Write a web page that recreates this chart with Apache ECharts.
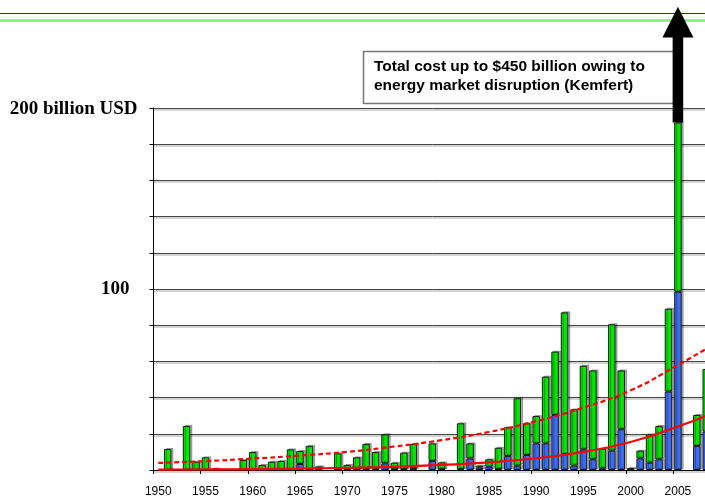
<!DOCTYPE html>
<html>
<head>
<meta charset="utf-8">
<script src="https://cdn.jsdelivr.net/npm/echarts@6/dist/echarts.min.js"></script>
<style>
  html, body { margin: 0; padding: 0; background: #fff; overflow: hidden; }
  #chart { width: 720px; height: 501px; }
</style>
</head>
<body>
<div id="chart"></div>
<script>
// years on the axis (the last one is cut by the frame)
var years = [];
for (var y = 1950; y <= 2008; y++) years.push(String(y));

// total economic losses, billion USD
var totalLoss = [
  0, 11.6, 0, 24.3, 4.6, 7.0, 0.8, 0, 0, 5.5,
  9.9, 2.8, 4.6, 5.0, 11.4, 10.5, 13.3, 2.0, 0, 9.2,
  2.8, 7.0, 14.4, 9.9, 19.7, 4.0, 9.6, 14.4, 0, 14.7,
  4.2, 0, 25.8, 14.7, 2.4, 5.9, 12.3, 23.6, 39.6, 25.8,
  29.8, 51.6, 65.4, 87.1, 33.5, 57.6, 55.0, 11.8, 80.5, 55.0,
  1.0, 10.7, 19.7, 24.3, 89.1, 192, 0, 30.4, 55.8
];
// insured losses, billion USD
var insuredLoss = [
  0, 0, 0, 0, 0, 0, 0, 0, 0, 0,
  0, 0, 0, 0, 0, 3.3, 0, 0.5, 0, 0,
  0.5, 0, 1.0, 1.0, 3.7, 0.5, 0.5, 1.0, 0, 5.0,
  0.5, 0, 0.5, 6.4, 1.3, 1.8, 0.5, 7.7, 2.4, 8.3,
  14.7, 14.7, 30.4, 8.8, 2.4, 11.4, 5.9, 0.9, 10.7, 22.5,
  0.3, 6.4, 4.0, 5.9, 43.3, 98.5, 0, 13.3, 21.2
];

// trend curves, read at 5-year steps
var trendYears = ['1950', '1955', '1960', '1965', '1970', '1975', '1980', '1985', '1990', '1995', '2000', '2005', '2008'];
var trendTotal = [3.9, 4.9, 6.3, 8.0, 10.0, 13.0, 16.5, 21.0, 27.0, 34.5, 44.0, 58.0, 67.0];
var trendInsured = [0.2, 0.3, 0.5, 0.8, 1.2, 1.8, 2.8, 4.2, 6.5, 10.0, 15.5, 24.0, 30.0];

// arrow for 2005 (billion USD on the same scale, runs past the top)
var arrowYear = '2005';
var arrowStart = 192, arrowHeadBase = 239, arrowTip = 256;

var noteLines = ['Total cost up to $450 billion owing to', 'energy market disruption (Kemfert)'];

var blueData = insuredLoss.map(function (v, i) { return totalLoss[i] > 0 ? v : '-'; });
var greenData = totalLoss.map(function (v, i) { return v > 0 ? +(v - insuredLoss[i]).toFixed(1) : '-'; });

var myChart = echarts.init(document.getElementById('chart'));

var barStyle = function (color) {
  return {
    color: color,
    borderColor: '#1a1a1a',
    borderWidth: 1,
    shadowColor: 'rgba(0,0,0,0.3)',
    shadowOffsetX: 2,
    shadowOffsetY: -1
  };
};

var serif = '"Liberation Serif", "Times New Roman", serif';

var option = {
  animation: false,
  grid: { left: 153.5, right: 9, top: 108, bottom: 31 },
  xAxis: {
    type: 'category',
    data: years,
    boundaryGap: true,
    axisLine: { lineStyle: { color: '#000', width: 1 } },
    axisTick: { show: true, length: 4, lineStyle: { color: '#000' } },
    axisLabel: {
      interval: 4,
      color: '#000',
      fontFamily: 'Arial, "Liberation Sans", sans-serif',
      fontSize: 12,
      margin: 16
    }
  },
  yAxis: {
    type: 'value',
    min: 0,
    max: 200,
    interval: 20,
    axisLine: { show: true, lineStyle: { color: '#000', width: 1 } },
    axisTick: { show: true, length: 4, lineStyle: { color: '#000' } },
    splitLine: {
      lineStyle: {
        color: '#444',
        width: 1,
        shadowColor: 'rgba(0,0,0,0.35)',
        shadowOffsetY: 1.5
      }
    },
    axisLabel: {
      margin: 16,
      formatter: function (v) {
        if (v === 200) return '{a|200 billion USD}';
        if (v === 100) return '{b|100}';
        return '';
      },
      rich: {
        a: { fontFamily: serif, fontWeight: 'bold', fontSize: 19, color: '#000', padding: [3, 0, 0, 0] },
        b: { fontFamily: serif, fontWeight: 'bold', fontSize: 19, color: '#000', padding: [0, 8, 0, 0] }
      }
    }
  },
  series: [
    {
      name: 'insured',
      type: 'bar',
      stack: 'loss',
      barWidth: 7.5,
      data: blueData,
      itemStyle: barStyle('#3a6cf4')
    },
    {
      name: 'economic',
      type: 'bar',
      stack: 'loss',
      barWidth: 7.5,
      data: greenData,
      itemStyle: barStyle('#00e600')
    },
    {
      name: 'trend total',
      type: 'line',
      smooth: true,
      showSymbol: false,
      data: trendYears.map(function (t, i) { return [t, trendTotal[i]]; }),
      lineStyle: { color: '#ff0000', width: 2.2, type: [5, 3] },
      z: 5
    },
    {
      name: 'trend insured',
      type: 'line',
      smooth: true,
      showSymbol: false,
      data: trendYears.map(function (t, i) { return [t, trendInsured[i]]; }),
      lineStyle: { color: '#ff0000', width: 2.2 },
      z: 5
    }
  ]
};

myChart.setOption(option);

// annotations: header rules, note box and the 2005 arrow
var p0 = myChart.convertToPixel({ xAxisIndex: 0, yAxisIndex: 0 }, [arrowYear, arrowStart]);
var p1 = myChart.convertToPixel({ xAxisIndex: 0, yAxisIndex: 0 }, [arrowYear, arrowHeadBase]);
var p2 = myChart.convertToPixel({ xAxisIndex: 0, yAxisIndex: 0 }, [arrowYear, arrowTip]);
var cx = p0[0];

myChart.setOption({
  graphic: [
    { type: 'line', shape: { x1: 0, y1: 13.5, x2: 720, y2: 13.5 }, style: { stroke: '#2a2a80', lineWidth: 1 }, z: 10 },
    { type: 'line', shape: { x1: 0, y1: 20.5, x2: 720, y2: 20.5 }, style: { stroke: '#86e886', lineWidth: 2.5 }, z: 10 },
    {
      type: 'rect',
      shape: { x: 363.5, y: 51.5, width: 312, height: 52 },
      style: { fill: '#fff', stroke: '#777', lineWidth: 1.5 },
      z: 10
    },
    {
      type: 'text',
      left: 374, top: 57,
      style: {
        text: noteLines.join('\n'),
        font: 'bold 15.5px Arial, "Liberation Sans", sans-serif',
        fill: '#000',
        lineHeight: 19
      },
      z: 11
    },
    {
      type: 'rect',
      shape: { x: cx - 5.3, y: p1[1] - 1, width: 10.6, height: p0[1] - p1[1] + 1 },
      style: { fill: '#000' },
      z: 12
    },
    {
      type: 'polygon',
      shape: { points: [[cx - 15.5, p1[1]], [cx + 15.5, p1[1]], [cx, p2[1]]] },
      style: { fill: '#000' },
      z: 12
    }
  ]
});
</script>
</body>
</html>
